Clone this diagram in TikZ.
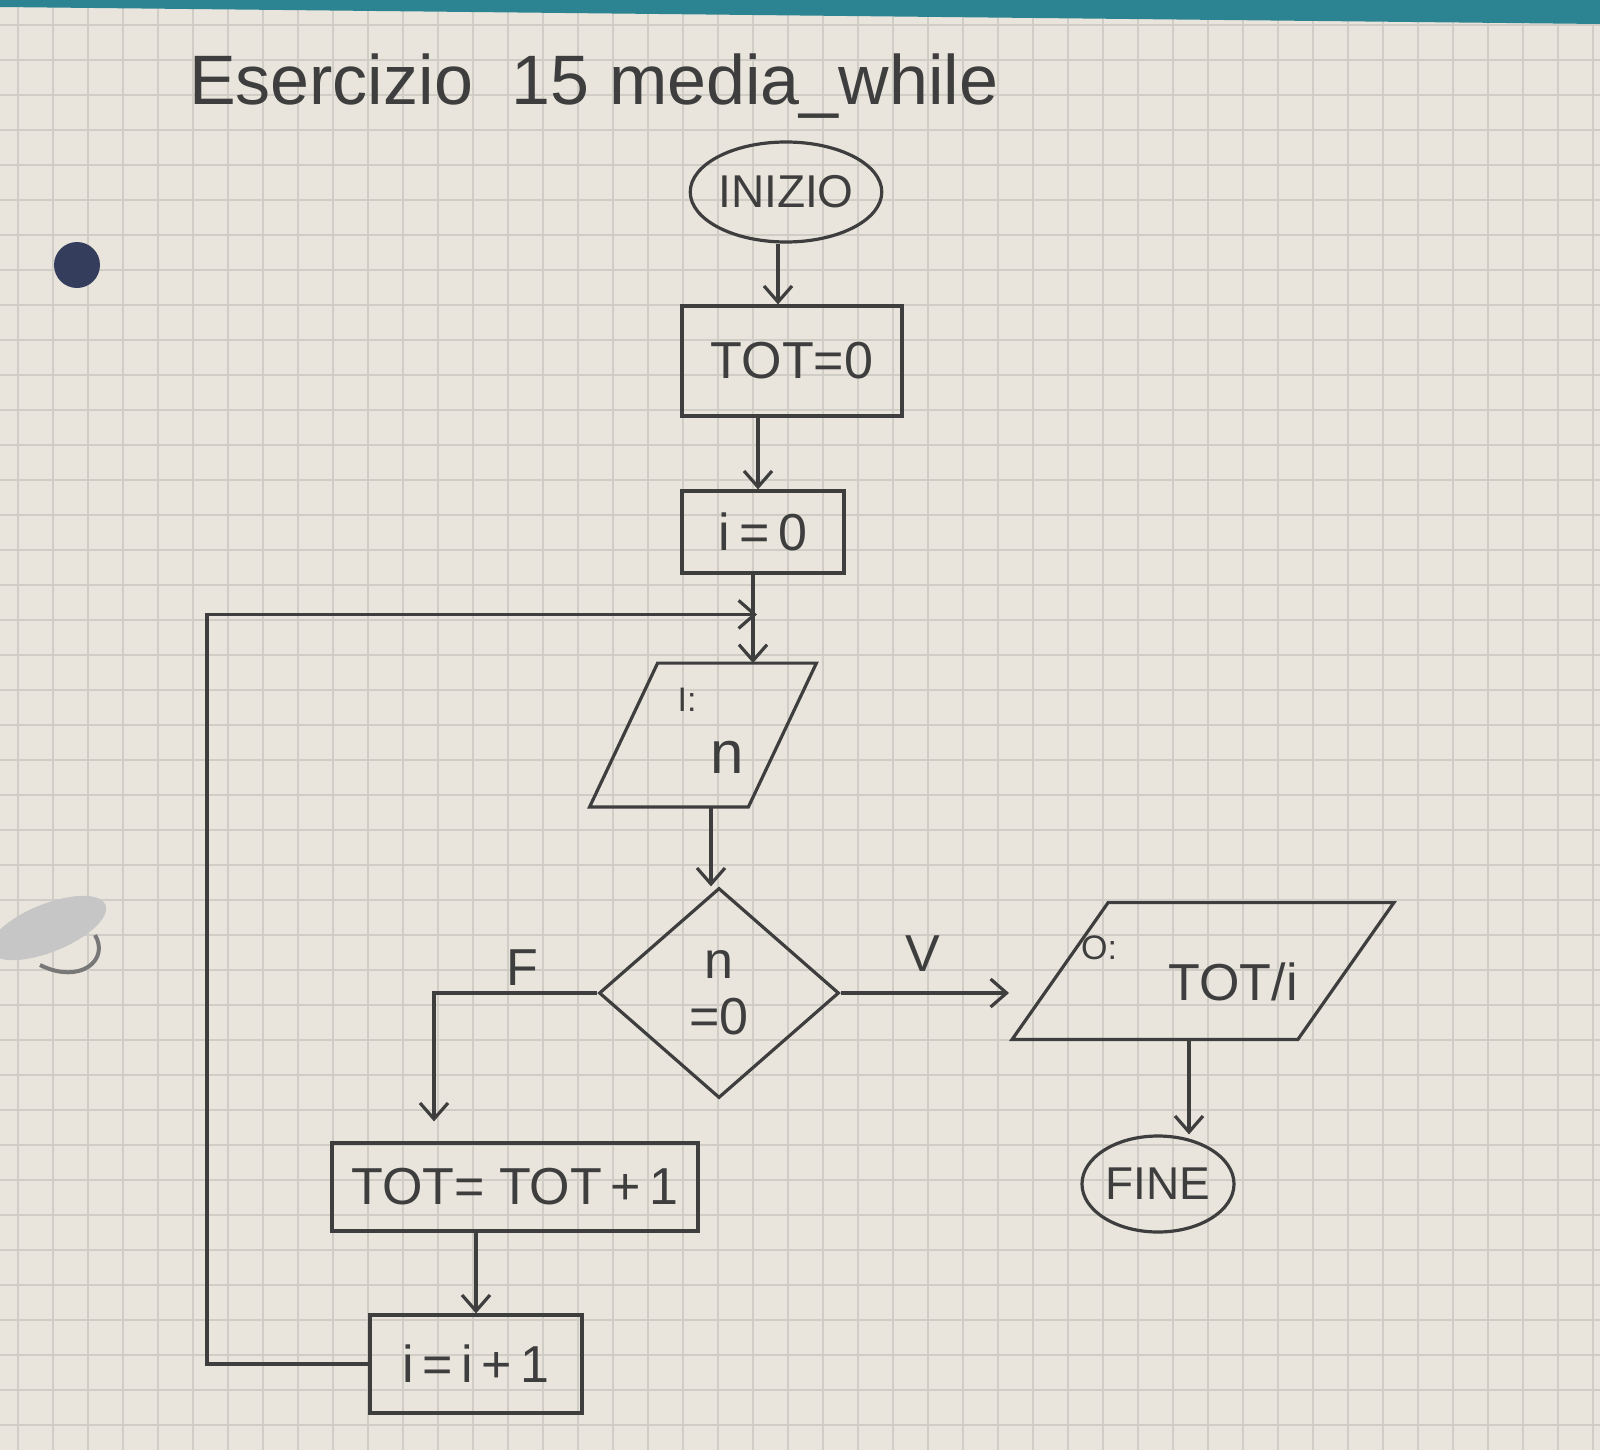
\documentclass[tikz,border=0pt]{standalone}
\usepackage{fontspec}
\setmainfont{Liberation Sans}
\usetikzlibrary{shapes.geometric,positioning,calc,arrows.meta}
\definecolor{carta}{RGB}{233,229,220}
\definecolor{quadretti}{RGB}{208,205,198}
\definecolor{penna}{RGB}{62,62,62}
\definecolor{bordo}{RGB}{44,132,146}
\definecolor{foro}{RGB}{52,62,92}
\tikzset{
  tratto/.style={draw=penna, line width=1.6pt},
  testo/.style={text=penna, font=\fontsize{26}{28}\selectfont},
  blocco/.style={tratto, testo, rectangle, inner sep=0pt},
  ovale/.style={tratto, testo, ellipse, inner sep=0pt, font=\fontsize{23}{25}\selectfont},
  io/.style={testo, rectangle, inner sep=0pt},
  scelta/.style={tratto, testo, diamond, inner sep=0pt, align=center},
  freccia/.style={tratto, -{Straight Barb[length=8pt,width=14pt]}},
  piccolo/.style={text=penna, font=\fontsize{17}{19}\selectfont}
}
\begin{document}
\begin{tikzpicture}[x=0.5pt,y=-0.5pt]
\useasboundingbox (0,0) rectangle (1600,1450);
%foglio
\fill[carta] (0,0) rectangle (1600,1450);
\foreach \gx in {18,53,...,1600} \draw[quadretti, line width=0.6pt] (\gx,0) -- (\gx,1450);
\foreach \gy in {25,60,...,1450} \draw[quadretti, line width=0.6pt] (0,\gy) -- (1600,\gy);
\fill[bordo] (0,0) -- (1600,0) -- (1600,24) -- (0,7) -- cycle;
\fill[foro] (77,265) circle (23);
\fill[gray!45] (48,928) ellipse [x radius=62, y radius=24, rotate=22];
\draw[penna!70, line width=2pt] (40,965) .. controls (80,985) and (110,960) .. (95,935);
%titolo
\node[text=penna, font=\fontsize{35}{37}\selectfont, anchor=west] (titolo) at (182,86) {Esercizio\ \ 15 media\_while};
%blocchi
\node[ovale, minimum width=89pt, minimum height=50pt] (inizio) at (786,192) {INIZIO};
\node[blocco, minimum width=110pt, minimum height=55pt] (tot0) at (792,361) {TOT=0};
\node[blocco, minimum width=81pt, minimum height=41pt] (i0) at (763,532) {i\,=\,0};
\node[io, minimum width=79pt, minimum height=71.5pt] (in) at (703,735) {};
\draw[tratto] ($(in.north west)+(34,0)$) -- ($(in.north east)+(34,0)$) -- ($(in.south east)+(-34,0)$) -- ($(in.south west)+(-34,0)$) -- cycle;
\node[piccolo] (inlbl) at ($(in.center)+(-16,-35)$) {I:};
\node[testo, font=\fontsize{30}{32}\selectfont] (inn) at ($(in.center)+(24,22)$) {n};
\node[scelta, minimum width=120pt, minimum height=105pt] (dia) at (719,993) {n\\=0};
\node[io, minimum width=142.5pt, minimum height=68pt] (out) at (1203,971) {};
\draw[tratto] ($(out.north west)+(48,0)$) -- ($(out.north east)+(48,0)$) -- ($(out.south east)+(-48,0)$) -- ($(out.south west)+(-48,0)$) -- cycle;
\node[piccolo] (outlbl) at ($(out.center)+(-104,-23)$) {O:};
\node[testo] (outtot) at ($(out.center)+(30,11)$) {TOT/i};
\node[ovale, minimum width=76pt, minimum height=48pt] (fine) at (1158,1184) {FINE};
\node[blocco, minimum width=183pt, minimum height=44pt] (tot1) at (515,1187) {TOT= TOT\,+\,1};
\node[blocco, minimum width=106pt, minimum height=49pt] (inc) at (476,1364) {i\,=\,i\,+\,1};
%etichette
\node[testo] (lblF) at (522,968) {F};
\node[testo] (lblV) at (923,954) {V};
%coordinate
\coordinate (unione) at ($(i0.south)!0.45!(i0.south |- in.north)$);
\coordinate (sinistra) at (207,0);
\coordinate (ramoF) at ($(tot1.north)+(-81,0)$);
\coordinate (ingresso) at ($(out.center)+(-150,0)$);
%frecce
\draw[freccia] ([xshift=-4pt]inizio.south) -- ([xshift=-4pt]inizio.south |- tot0.north);
\draw[freccia] ([xshift=-17pt]tot0.south) -- ([xshift=-17pt]tot0.south |- i0.north);
\draw[freccia] ([xshift=-5pt]i0.south) -- ([xshift=-5pt]i0.south |- in.north);
\draw[freccia] ([xshift=4pt]in.south) -- ([xshift=4pt]in.south |- dia.north);
\draw[freccia, shorten >=22pt] (dia.east) -- (dia.east -| ingresso);
\draw[freccia] ([xshift=-7pt]out.south) -- ([xshift=-7pt]out.south |- fine.north);
\draw[freccia, shorten >=10pt] (dia.west) -- (dia.west -| ramoF) -- (ramoF);
\draw[freccia] (inc.north |- tot1.south) -- (inc.north);
\draw[freccia] (inc.west) -- (inc.west -| sinistra) -- (sinistra |- unione) -- ([xshift=-3pt]unione -| i0.south);
\end{tikzpicture}
\end{document}
